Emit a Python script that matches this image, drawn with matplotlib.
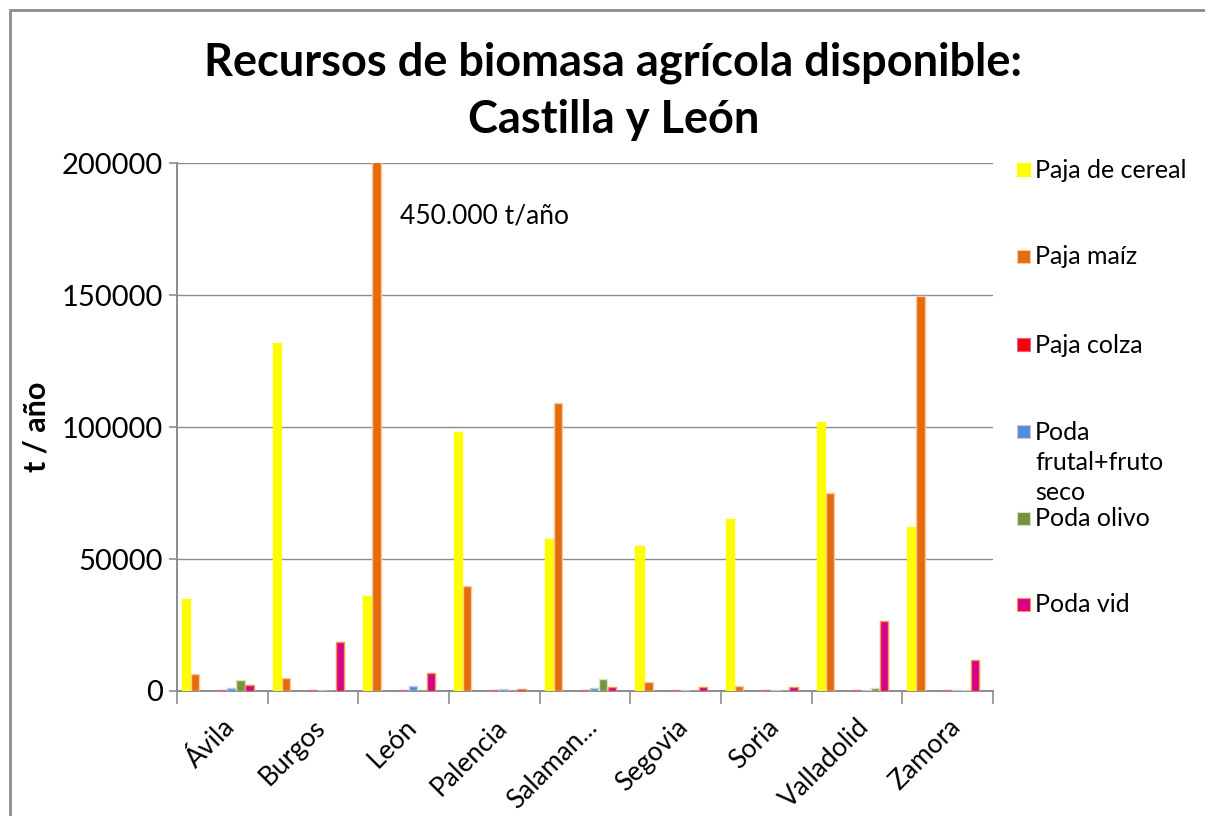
import matplotlib
matplotlib.use("Agg")
import matplotlib.pyplot as plt
from matplotlib.patches import Rectangle
import numpy as np

plt.rcParams['font.family'] = ['Lato', 'DejaVu Sans']

provincias = ['Ávila', 'Burgos', 'León', 'Palencia', 'Salaman...',
              'Segovia', 'Soria', 'Valladolid', 'Zamora']

paja_cereal = [35000, 132000, 36000, 98000, 57500, 55000, 65000, 102000, 62000]
paja_maiz = [6300, 4900, 450000, 39800, 109000, 3300, 1800, 75000, 149500]
paja_colza = [300, 300, 300, 300, 300, 300, 300, 300, 300]
poda_frutal = [1200, 500, 1800, 600, 1200, 400, 400, 400, 400]
poda_olivo = [4200, 0, 0, 0, 4700, 0, 0, 1100, 500]
poda_vid = [2100, 18700, 6900, 600, 1600, 1600, 1400, 26600, 11700]

series = [
    ('Paja de cereal', paja_cereal, '#FFFF00', '#FFFF00'),
    ('Paja maíz', paja_maiz, '#E46C0A', '#FAC8A0'),
    ('Paja colza', paja_colza, '#FF0000', '#E860A0'),
    ('Poda\nfrutal+fruto\nseco', poda_frutal, '#558ED5', '#B9CDE5'),
    ('Poda olivo', poda_olivo, '#77933C', '#D7E4BD'),
    ('Poda vid', poda_vid, '#D6008A', '#F79646'),
]
# slot of each series inside a group of 9 (two empty slots after maiz, one at the end)
slots = [0, 1, 4, 5, 6, 7]

fig = plt.figure(figsize=(12.05, 8.16), dpi=100)
ax = fig.add_axes([0.1469, 0.1532, 0.824 - 0.1469, 0.8002 - 0.1532])

x = np.arange(len(provincias))
w = 0.1
for (name, vals, col, edge), s in zip(series, slots):
    ax.bar(x - 0.4 + s * w, vals, w * 0.92, color=col, edgecolor=edge,
           linewidth=1.0, zorder=3)

ax.set_xlim(-0.5, len(provincias) - 0.5)
ax.set_ylim(0, 200000)
ax.set_yticks([0, 50000, 100000, 150000, 200000])
ax.set_yticklabels(['0', '50000', '100000', '150000', '200000'], fontsize=21)
ax.yaxis.grid(True, color='#8C8C8C', linewidth=1.0, zorder=0)

ax.set_xticks(x)
ax.set_xticklabels(provincias, rotation=45, ha='right', rotation_mode='anchor',
                   fontsize=19)
ax.set_xticks(np.arange(len(provincias) + 1) - 0.5, minor=True)
ax.tick_params(axis='x', which='major', length=0, pad=17)
ax.tick_params(axis='x', which='minor', length=9, color='#8C8C8C', width=1.2)
ax.tick_params(axis='y', length=6, color='#8C8C8C', width=1.2, pad=4)

for side in ['top', 'right']:
    ax.spines[side].set_visible(False)
for side in ['left', 'bottom']:
    ax.spines[side].set_color('#8C8C8C')
    ax.spines[side].set_linewidth(1.4)

ax.set_ylabel('t / año', fontsize=22, fontweight='bold', labelpad=8)

ax.text(1.96, 180000, '450.000 t/año', fontsize=19, ha='left', va='center')

fig.text(0.509, 1 - 91 / 816, 'Recursos de biomasa agrícola disponible:\nCastilla y León',
         ha='center', va='center', fontsize=32.5, fontweight='bold',
         linespacing=1.45)

# legend on the right
leg_y = [170, 257, 345, 432, 519, 605]
for (name, vals, col, edge), yy in zip(series, leg_y):
    fig.patches.append(Rectangle((1017 / 1205, 1 - (yy + 6) / 816), 13 / 1205, 13 / 816,
                                 transform=fig.transFigure, facecolor=col,
                                 edgecolor=edge, linewidth=0.8))
    for j, line in enumerate(name.split('\n')):
        fig.text(1035 / 1205, 1 - (yy + j * 30.5) / 816, line, fontsize=18,
                 ha='left', va='center', transform=fig.transFigure)

# outer frame of the chart area
fig.patches.append(Rectangle((10 / 1205, -0.05), 1.2, 1 - 10 / 816 + 0.05,
                             transform=fig.transFigure, fill=False,
                             edgecolor='#8C8C8C', linewidth=2.0))

fig.savefig('out.png', dpi=100)
